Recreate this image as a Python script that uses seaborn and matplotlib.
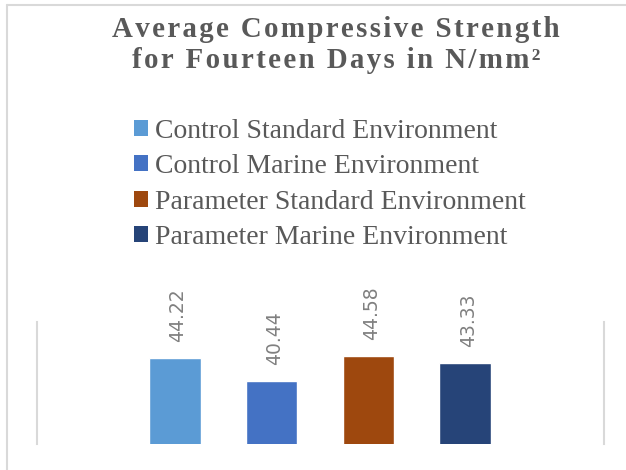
import matplotlib
matplotlib.use("Agg")
import matplotlib.pyplot as plt
import seaborn as sns
import pandas as pd
from matplotlib.patches import Patch
from matplotlib.lines import Line2D

sns.set_theme(style="white")

series = ["Control Standard Environment", "Control Marine Environment",
          "Parameter Standard Environment", "Parameter Marine Environment"]
strength = [44.22, 40.44, 44.58, 43.33]
colors = ["#5B9BD5", "#4472C4", "#9E480E", "#264478"]
title_lines = ["Average Compressive Strength", "for Fourteen Days in N/mm\u00b2"]

df = pd.DataFrame({"series": series, "strength": strength})

fig = plt.figure(figsize=(6.26, 4.70), dpi=100)
ax = fig.add_axes([37 / 626, 26 / 470, 567 / 626, 122 / 470])

sns.barplot(data=df, x="series", y="strength", hue="series", palette=colors,
            width=0.535, legend=False, ax=ax, saturation=1)

ax.set_ylim(30, 50.2)
ax.set_xlim(-1.42, 4.43)
ax.set_xticks([])
ax.set_yticks([])
ax.set_xlabel("")
ax.set_ylabel("")
for side in ["top", "bottom"]:
    ax.spines[side].set_visible(False)
for side in ["left", "right"]:
    ax.spines[side].set_color("#D9D9D9")
    ax.spines[side].set_linewidth(1.5)

for i, v in enumerate(strength):
    ax.text(i + 0.03, v + 2.7, f"{v:.2f}", rotation=90, ha="center", va="bottom",
            fontsize=13.5, color="#808080", family="DejaVu Sans")

# title with letter spacing
sp = "\u200a"
for k, line in enumerate(title_lines):
    fig.text(336 / 626, 1 - (37 + 31 * k) / 470, sp.join(line), ha="center", va="baseline",
             fontsize=20.75, fontweight="bold", color="#595959",
             family=["Liberation Serif", "DejaVu Serif"])

handles = [Patch(facecolor=c, edgecolor="none", label=s) for s, c in zip(series, colors)]
fig.legend(handles=handles, loc="upper left", bbox_to_anchor=(134 / 626, 1 - 119 / 470),
           frameon=False, handlelength=0.5, handleheight=0.5,
           handletextpad=0.25, labelspacing=0.37, borderaxespad=0, borderpad=0,
           labelcolor="#595959", prop={"family": "Liberation Serif", "size": 20})

# outer frame (left and top only are visible)
fig.add_artist(Line2D([6.5 / 626, 6.5 / 626], [0, 1 - 5 / 470], transform=fig.transFigure,
                      color="#D9D9D9", lw=1.5))
fig.add_artist(Line2D([6.5 / 626, 1], [1 - 5 / 470, 1 - 5 / 470], transform=fig.transFigure,
                      color="#D9D9D9", lw=1.5))

fig.savefig("out.png", dpi=100)
